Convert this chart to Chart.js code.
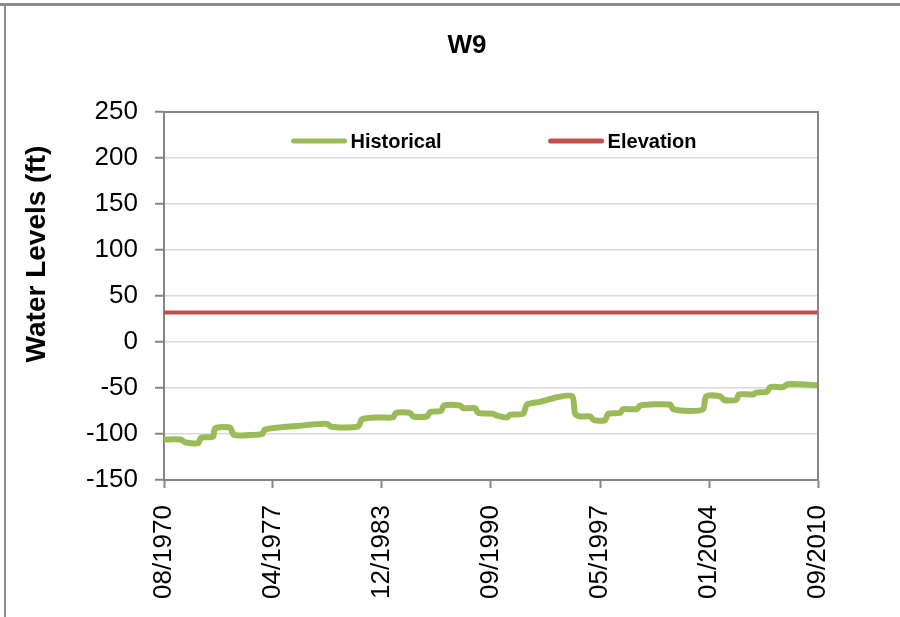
<!DOCTYPE html>
<html>
<head>
<meta charset="utf-8">
<title>W9</title>
<script src="https://cdn.jsdelivr.net/npm/chart.js@4.4.1/dist/chart.umd.min.js"></script>
<style>
    html, body { margin: 0; padding: 0; background: #fff; }
    canvas { display: block; }
</style>
</head>
<body>
<canvas id="w9Chart" width="900" height="617"></canvas>
<script>
// Water level record for well W9 (decimal years / feet)
const histYears = [
    1970.58, 1971.60, 1971.87, 1972.67, 1972.85, 1973.58, 1973.71, 1974.63, 1974.87, 1975.85,
    1976.59, 1976.77, 1978.92, 1980.57, 1980.82, 1982.47, 1982.72, 1983.82, 1984.62, 1984.80,
    1985.66, 1985.85, 1986.71, 1986.89, 1987.56, 1987.75, 1988.73, 1988.91, 1989.65, 1989.83,
    1990.75, 1991.00, 1991.61, 1991.80, 1992.59, 1992.84, 1993.63, 1994.68, 1995.60, 1995.78,
    1996.09, 1996.70, 1996.94, 1997.62, 1997.80, 1998.54, 1998.72, 1999.58, 1999.77, 2001.60,
    2001.79, 2002.83, 2003.63, 2003.81, 2004.67, 2004.91, 2005.65, 2005.83, 2006.69, 2006.88,
    2007.55, 2007.74, 2008.54, 2008.78, 2009.58, 2010.67
];
const histLevels = [
    -106, -106, -109, -110, -104, -103, -94, -93, -101, -101,
    -100, -95, -91, -89, -92, -92, -84, -82, -82, -77,
    -77, -81, -81, -76, -75, -69, -69, -72, -72, -77,
    -78, -80, -82, -79, -78, -68, -65, -60, -59, -78,
    -81, -81, -85, -85, -78, -77, -73, -73, -69, -68,
    -73, -75, -73, -59, -59, -63, -63, -57, -57, -55,
    -54, -49, -49, -46, -46, -47
];
const elevYears = [1970.58, 2010.67];
const elevLevels = [32, 32];

const xTickYears = [1970.58, 1977.26, 1983.94, 1990.62, 1997.31, 2003.99, 2010.67];
const xTickLabels = ['08/1970', '04/1977', '12/1983', '09/1990', '05/1997', '01/2004', '09/2010'];
const chartTitle = 'W9';
const yTitle = 'Water Levels (ft)';

const toPoints = (xs, ys) => xs.map((x, i) => ({ x: x, y: ys[i] }));

const AXIS_GRAY = '#868686';
const FONT = '"Liberation Sans", Arial, sans-serif';

// white page, outer frame, box round the plot area
const frame = {
    id: 'frame',
    beforeDraw(chart) {
        const ctx = chart.ctx;
        ctx.save();
        ctx.fillStyle = '#fff';
        ctx.fillRect(0, 0, chart.width, chart.height);
        ctx.fillStyle = '#8c8c8c';
        ctx.fillRect(0, 3, chart.width, 3);
        ctx.fillRect(4, 3, 2, chart.height - 3);
        ctx.restore();
    },
    afterDatasetsDraw(chart) {
        const { ctx, chartArea } = chart;
        ctx.save();
        ctx.strokeStyle = AXIS_GRAY;
        ctx.lineWidth = 2;
        ctx.beginPath();
        ctx.moveTo(chartArea.left, chartArea.top);
        ctx.lineTo(chartArea.right, chartArea.top);
        ctx.lineTo(chartArea.right, chartArea.bottom);
        ctx.stroke();
        ctx.restore();
    }
};

// legend sits inside the top of the plot area
const insideLegend = {
    id: 'insideLegend',
    afterDraw(chart) {
        const { ctx, chartArea } = chart;
        const lineLen = 55, textGap = 4, itemGap = 107;
        ctx.save();
        ctx.font = 'bold 20px ' + FONT;
        ctx.textBaseline = 'middle';
        const items = chart.data.datasets.map(ds => ({
            label: ds.label,
            color: ds.borderColor,
            w: lineLen + textGap + ctx.measureText(ds.label).width
        }));
        const total = items.reduce((s, it) => s + it.w, 0) + itemGap * (items.length - 1);
        let x = (chartArea.left + chartArea.right) / 2 - total / 2 + 3;
        const y = chartArea.top + 29;
        items.forEach(it => {
            ctx.strokeStyle = it.color;
            ctx.lineWidth = 5;
            ctx.lineCap = 'round';
            ctx.beginPath();
            ctx.moveTo(x + 2, y);
            ctx.lineTo(x + lineLen - 2, y);
            ctx.stroke();
            ctx.fillStyle = '#000';
            ctx.fillText(it.label, x + lineLen + textGap, y + 1);
            x += it.w + itemGap;
        });
        ctx.restore();
    }
};

// chart title and rotated y axis title
const titles = {
    id: 'titles',
    afterDraw(chart) {
        const ctx = chart.ctx;
        ctx.save();
        ctx.fillStyle = '#000';
        ctx.textAlign = 'center';
        ctx.textBaseline = 'middle';
        ctx.font = 'bold 26px ' + FONT;
        ctx.fillText(chartTitle, 467, 46);
        ctx.translate(37, 254);
        ctx.rotate(-Math.PI / 2);
        ctx.font = 'bold 28px ' + FONT;
        ctx.fillText(yTitle, 0, 0);
        ctx.restore();
    }
};

const ctx = document.getElementById('w9Chart').getContext('2d');
new Chart(ctx, {
    type: 'line',
    data: {
        datasets: [{
            label: 'Historical',
            data: toPoints(histYears, histLevels),
            borderColor: '#9BBB59',
            backgroundColor: '#9BBB59',
            borderWidth: 6,
            borderJoinStyle: 'round',
            borderCapStyle: 'round',
            pointRadius: 0,
            tension: 0.25
        }, {
            label: 'Elevation',
            data: toPoints(elevYears, elevLevels),
            borderColor: '#C0504D',
            backgroundColor: '#C0504D',
            borderWidth: 4,
            pointRadius: 0
        }]
    },
    options: {
        responsive: false,
        animation: false,
        devicePixelRatio: 1,
        layout: { padding: { left: 0, right: 82, top: 112, bottom: 0 } },
        plugins: {
            legend: { display: false },
            tooltip: { enabled: false },
            title: { display: false }
        },
        scales: {
            x: {
                type: 'linear',
                min: xTickYears[0],
                max: xTickYears[xTickYears.length - 1],
                afterBuildTicks: (scale) => {
                    scale.ticks = xTickYears.map(v => ({ value: v }));
                },
                afterFit: (scale) => { scale.height = 137; },
                ticks: {
                    autoSkip: false,
                    minRotation: 90,
                    maxRotation: 90,
                    padding: 17,
                    color: '#000',
                    font: { family: FONT, size: 26 },
                    callback: (v, i) => xTickLabels[i]
                },
                grid: {
                    drawOnChartArea: false,
                    tickLength: 8,
                    tickColor: AXIS_GRAY,
                    tickWidth: 2
                },
                border: { color: AXIS_GRAY, width: 2 }
            },
            y: {
                min: -150,
                max: 250,
                afterFit: (scale) => { scale.width = 164; },
                ticks: {
                    stepSize: 50,
                    padding: 17,
                    color: '#000',
                    font: { family: FONT, size: 26 }
                },
                grid: {
                    color: '#D9D9D9',
                    lineWidth: 1.5,
                    tickLength: 9,
                    tickColor: AXIS_GRAY,
                    tickWidth: 2
                },
                border: { color: AXIS_GRAY, width: 2 }
            }
        }
    },
    plugins: [frame, insideLegend, titles]
});
</script>
</body>
</html>
